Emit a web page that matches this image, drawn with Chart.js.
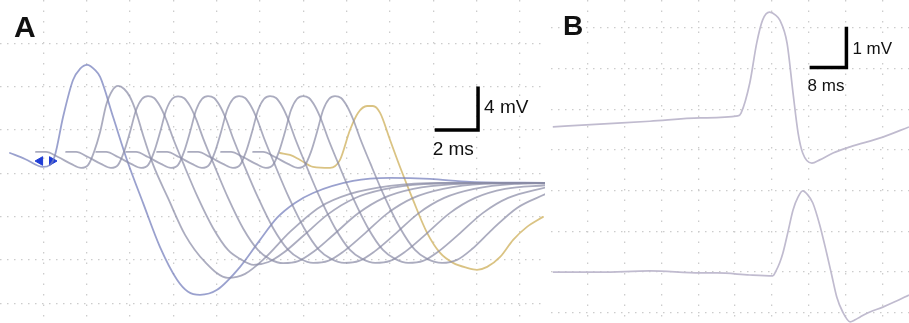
<!DOCTYPE html>
<html>
<head>
<meta charset="utf-8">
<script src="https://cdn.jsdelivr.net/npm/chart.js@4.4.0/dist/chart.umd.min.js"></script>
<style>
  body { margin: 0; background: #fff; }
  #wrap { position: relative; width: 909px; height: 323px; overflow: hidden; }
  .panel { position: absolute; top: 0; }
</style>
</head>
<body>
<div id="wrap">
  <div class="panel" style="left:0;width:545px;height:323px"><canvas id="chartA" width="545" height="323"></canvas></div>
  <div class="panel" style="left:551px;width:358px;height:323px"><canvas id="chartB" width="358" height="323"></canvas></div>
</div>
<script>
// Panel A : 10 réponses successives, temps en ms, tension en mV
const trace1 = [[0.46,1.87],[1.15,1.32],[1.98,0.58],[2.31,0.77],[2.54,1.69],[2.91,5.19],[3.37,8.61],[3.69,9.63],[4.02,10.0],[4.38,9.54],[4.62,8.89],[5.22,5.19],[5.86,1.23],[6.60,-2.74],[7.38,-6.80],[8.17,-9.84],[8.68,-10.95],[9.23,-11.23],[10.02,-10.77],[11.08,-8.65],[12.0,-6.15],[12.78,-4.12],[13.61,-2.74],[14.45,-1.82],[16.29,-0.71],[18.0,-0.43],[19.84,-0.52],[21.69,-0.80],[25.2,-0.89]];
const trace2 = [[1.66,1.97],[2.12,1.97],[2.68,1.50],[3.28,0.86],[3.74,0.49],[4.07,0.77],[4.34,1.97],[4.62,3.81],[4.90,6.30],[5.17,7.60],[5.45,8.06],[5.73,7.78],[6.00,7.04],[6.28,5.66],[6.60,3.54],[7.07,0.77],[7.75,-2.28],[8.54,-5.69],[9.46,-8.19],[10.52,-9.66],[11.31,-9.29],[12.23,-7.82],[13.38,-5.42],[14.77,-3.11],[16.15,-1.91],[18.0,-1.17],[20.31,-0.89],[25.2,-0.89]];
const trace3 = [[3.05,1.97],[3.51,1.97],[4.06,1.50],[4.66,0.86],[5.12,0.49],[5.45,0.77],[5.72,1.97],[6.00,3.81],[6.28,5.84],[6.55,6.86],[6.83,7.13],[7.11,6.95],[7.38,6.21],[7.66,5.01],[7.98,3.26],[8.45,0.95],[9.14,-2.28],[9.83,-5.05],[10.52,-7.08],[11.08,-7.91],[11.70,-8.46],[12.39,-8.20],[13.08,-7.35],[14.01,-5.75],[15.16,-3.75],[16.32,-2.35],[17.70,-1.50],[19.55,-1.00],[21.85,-0.90],[25.2,-0.89]];
const trace4 = [[4.44,1.97],[4.90,1.97],[5.45,1.50],[6.05,0.86],[6.51,0.49],[6.84,0.77],[7.11,1.97],[7.39,3.81],[7.67,5.84],[7.94,6.86],[8.22,7.10],[8.50,6.93],[8.77,6.20],[9.05,5.00],[9.37,3.25],[9.84,0.95],[10.53,-2.30],[11.22,-5.10],[11.91,-7.10],[12.47,-7.95],[13.07,-8.30],[13.76,-8.12],[14.45,-7.28],[15.38,-5.70],[16.53,-3.70],[17.69,-2.30],[19.07,-1.45],[20.92,-1.00],[23.22,-0.90],[25.2,-0.89]];
const trace5 = [[5.82,1.97],[6.28,1.97],[6.83,1.50],[7.43,0.86],[7.89,0.49],[8.22,0.77],[8.49,1.97],[8.77,3.81],[9.05,5.84],[9.32,6.86],[9.60,7.13],[9.88,6.95],[10.15,6.21],[10.43,5.01],[10.75,3.26],[11.22,0.95],[11.91,-2.26],[12.60,-5.05],[13.29,-7.06],[13.85,-7.90],[14.45,-8.28],[15.14,-8.10],[15.83,-7.26],[16.76,-5.69],[17.91,-3.66],[19.07,-2.28],[20.45,-1.45],[22.30,-0.99],[25.2,-0.89]];
const trace6 = [[7.25,1.97],[7.71,1.97],[8.26,1.50],[8.86,0.86],[9.32,0.49],[9.65,0.77],[9.92,1.97],[10.20,3.81],[10.48,5.84],[10.75,6.86],[11.03,7.13],[11.31,6.95],[11.58,6.21],[11.86,5.01],[12.18,3.26],[12.65,0.95],[13.34,-2.28],[14.03,-5.05],[14.72,-7.08],[15.28,-7.91],[15.88,-8.28],[16.57,-8.10],[17.26,-7.26],[18.19,-5.69],[19.34,-3.66],[20.50,-2.28],[21.88,-1.45],[23.73,-0.99],[25.2,-0.92]];
const trace7 = [[8.68,1.97],[9.14,1.97],[9.69,1.50],[10.29,0.86],[10.75,0.49],[11.08,0.77],[11.35,1.97],[11.63,3.81],[11.91,5.84],[12.18,6.86],[12.46,7.13],[12.74,6.95],[13.01,6.21],[13.29,5.01],[13.61,3.26],[14.08,0.95],[14.77,-2.28],[15.46,-5.05],[16.15,-7.08],[16.71,-7.91],[17.31,-8.28],[18.0,-8.10],[18.69,-7.26],[19.62,-5.69],[20.77,-3.66],[21.93,-2.28],[23.31,-1.45],[25.2,-1.10]];
const trace8 = [[10.20,1.97],[10.66,1.97],[11.21,1.50],[11.81,0.86],[12.27,0.49],[12.60,0.77],[12.87,1.97],[13.15,3.81],[13.43,5.84],[13.70,6.86],[13.98,7.13],[14.26,6.95],[14.53,6.21],[14.81,5.01],[15.13,3.26],[15.60,0.95],[16.29,-2.28],[16.98,-5.05],[17.67,-7.08],[18.23,-7.91],[18.83,-8.28],[19.52,-8.10],[20.21,-7.26],[21.14,-5.69],[22.29,-3.66],[23.45,-2.28],[25.2,-1.30]];
const trace9 = [[11.68,1.97],[12.14,1.97],[12.69,1.50],[13.29,0.86],[13.75,0.49],[14.08,0.77],[14.35,1.97],[14.63,3.81],[14.91,5.84],[15.18,6.86],[15.46,7.13],[15.74,6.95],[16.01,6.21],[16.29,5.01],[16.61,3.26],[17.08,0.95],[17.77,-2.28],[18.46,-5.05],[19.15,-7.08],[19.71,-7.91],[20.40,-8.28],[21.09,-8.0],[21.78,-7.0],[22.71,-5.2],[23.86,-3.2],[25.2,-1.90]];
const traceLast = [[12.92,1.87],[13.38,1.69],[13.85,1.23],[14.45,0.58],[15.23,0.49],[15.69,1.23],[16.15,3.99],[16.52,5.57],[16.94,6.21],[17.21,6.21],[17.54,5.57],[18.0,3.07],[18.46,0.58],[19.06,-2.46],[19.71,-5.51],[20.31,-7.36],[20.91,-8.28],[21.55,-8.74],[22.01,-8.92],[22.48,-8.65],[23.08,-7.73],[23.68,-6.15],[24.32,-4.95],[25.06,-4.03]];
const stimMarks = [[1.85,1.13],[2.40,1.13]];
const gridA_ms = [2,4,6,8,10,12,14,16,18,20,22,24];
const gridA_mV = [-12,-8,-4,0,4,8,12];
const scaleBarA = [2, 4]; // ms, mV

// Panel B : deux enregistrements
const traceTop = [[0.39,3.57],[10.6,3.64],[21.5,3.71],[32.4,3.79],[40.6,3.84],[41.3,3.91],[43.2,4.65],[44.7,5.63],[46.0,6.20],[47.5,6.39],[48.8,6.32],[49.7,6.20],[51.3,5.63],[52.6,4.40],[53.7,3.42],[54.7,2.93],[56.7,2.68],[58.4,2.76],[61.3,2.93],[65.0,3.08],[72.1,3.32],[77.8,3.57]];
const traceBottom = [[0.39,0.0],[10.6,0.0],[21.5,0.03],[32.4,-0.02],[36.1,-0.02],[43.2,-0.07],[48.2,-0.09],[48.9,0.03],[49.7,0.23],[50.4,0.47],[51.5,0.99],[52.6,1.53],[53.7,1.85],[54.7,2.0],[55.8,1.90],[56.9,1.70],[58.4,1.16],[59.9,0.47],[61.0,-0.07],[62.1,-0.61],[63.4,-0.98],[65.0,-1.22],[66.1,-1.17],[67.2,-1.10],[69.3,-0.98],[72.1,-0.86],[74.7,-0.73],[77.8,-0.56]];
const gridB_ms = [8,16,24,32,40,48,56,64,72];
const gridB_mV = [-1,0,1,2,3,4,5,6];
const scaleBarB = [8, 1]; // ms, mV

const toXY = arr => arr.map(([x, y]) => ({x, y}));

// Barre d'échelle + lettre du panneau
const annotate = {
  id: 'annotate',
  afterDatasetsDraw(chart, args, o) {
    const {ctx} = chart;
    const {x, y} = chart.scales;
    const cx = x.getPixelForValue(o.cornerX);
    const cy = y.getPixelForValue(o.cornerY);
    const lx = x.getPixelForValue(o.cornerX - o.bar[0]);
    const ty = y.getPixelForValue(o.cornerY + o.bar[1]);
    ctx.save();
    ctx.strokeStyle = '#000';
    ctx.lineWidth = 3.5;
    ctx.lineJoin = 'miter';
    ctx.beginPath();
    ctx.moveTo(lx, cy);
    ctx.lineTo(cx, cy);
    ctx.lineTo(cx, ty);
    ctx.stroke();
    ctx.fillStyle = '#111';
    ctx.font = o.font;
    ctx.textBaseline = 'middle';
    ctx.textAlign = 'left';
    ctx.fillText(o.bar[1] + ' mV', cx + 6, (cy + ty) / 2 + o.dyV);
    ctx.fillText(o.bar[0] + ' ms', lx - 2, cy + o.dyH);
    ctx.font = o.letterFont;
    ctx.textBaseline = 'alphabetic';
    ctx.fillText(o.letter, o.letterX, o.letterY);
    ctx.restore();
  }
};

function axes(xMin, xMax, yMin, yMax, xs, ys) {
  return {
    x: {
      type: 'linear', min: xMin, max: xMax,
      ticks: {display: false},
      grid: {color: '#cccccc', lineWidth: 1.3, drawTicks: false},
      border: {display: false, dash: [1.5, 9]},
      afterBuildTicks: s => { s.ticks = xs.map(v => ({value: v})); },
      afterFit: s => { s.height = 0; }
    },
    y: {
      type: 'linear', min: yMin, max: yMax,
      ticks: {display: false},
      grid: {color: '#cccccc', lineWidth: 1.3, drawTicks: false},
      border: {display: false, dash: [1.5, 5.5]},
      afterBuildTicks: s => { s.ticks = ys.map(v => ({value: v})); },
      afterFit: s => { s.width = 0; }
    }
  };
}

const greyA = 'rgba(138,140,166,0.72)';
const tracesA = [trace2, trace3, trace4, trace5, trace6, trace7, trace8, trace9];

new Chart(document.getElementById('chartA'), {
  type: 'line',
  data: {
    datasets: [
      ...tracesA.map(t => ({data: toXY(t), borderColor: greyA, borderWidth: 1.8})),
      {data: toXY(trace1), borderColor: 'rgba(120,130,190,0.75)', borderWidth: 1.8},
      {data: toXY(traceLast), borderColor: 'rgba(214,188,118,0.9)', borderWidth: 1.8},
      {data: toXY(stimMarks), showLine: false, pointStyle: 'triangle', pointRotation: [-90, 90],
       pointRadius: 5, pointBackgroundColor: '#1e3cd6', pointBorderColor: '#1e3cd6'}
    ]
  },
  options: {
    responsive: false,
    animation: false,
    events: [],
    layout: {padding: 0, autoPadding: false},
    elements: {
      line: {cubicInterpolationMode: 'monotone', borderJoinStyle: 'round', borderCapStyle: 'round'},
      point: {radius: 0}
    },
    scales: axes(0, 25.15, -13.83, 16, gridA_ms, gridA_mV),
    plugins: {
      legend: {display: false},
      tooltip: {enabled: false},
      annotate: {
        cornerX: 22.06, cornerY: 4.0, bar: scaleBarA,
        font: '19px "Liberation Sans", Arial, sans-serif', dyV: -1, dyH: 20,
        letter: 'A', letterX: 14, letterY: 37,
        letterFont: 'bold 30px "Liberation Sans", Arial, sans-serif'
      }
    }
  },
  plugins: [annotate]
});

const greyB = 'rgb(192,187,207)';

new Chart(document.getElementById('chartB'), {
  type: 'line',
  data: {
    datasets: [
      {data: toXY(traceTop), borderColor: greyB, borderWidth: 1.7},
      {data: toXY(traceBottom), borderColor: greyB, borderWidth: 1.7}
    ]
  },
  options: {
    responsive: false,
    animation: false,
    events: [],
    layout: {padding: 0, autoPadding: false},
    elements: {
      line: {cubicInterpolationMode: 'monotone', borderJoinStyle: 'round'},
      point: {radius: 0}
    },
    scales: axes(0, 77.8, -1.25, 6.69, gridB_ms, gridB_mV),
    plugins: {
      legend: {display: false},
      tooltip: {enabled: false},
      annotate: {
        cornerX: 64.2, cornerY: 5.03, bar: scaleBarB,
        font: '17px "Liberation Sans", Arial, sans-serif', dyV: 2, dyH: 18.5,
        letter: 'B', letterX: 12, letterY: 35,
        letterFont: 'bold 28px "Liberation Sans", Arial, sans-serif'
      }
    }
  },
  plugins: [annotate]
});
</script>
</body>
</html>
